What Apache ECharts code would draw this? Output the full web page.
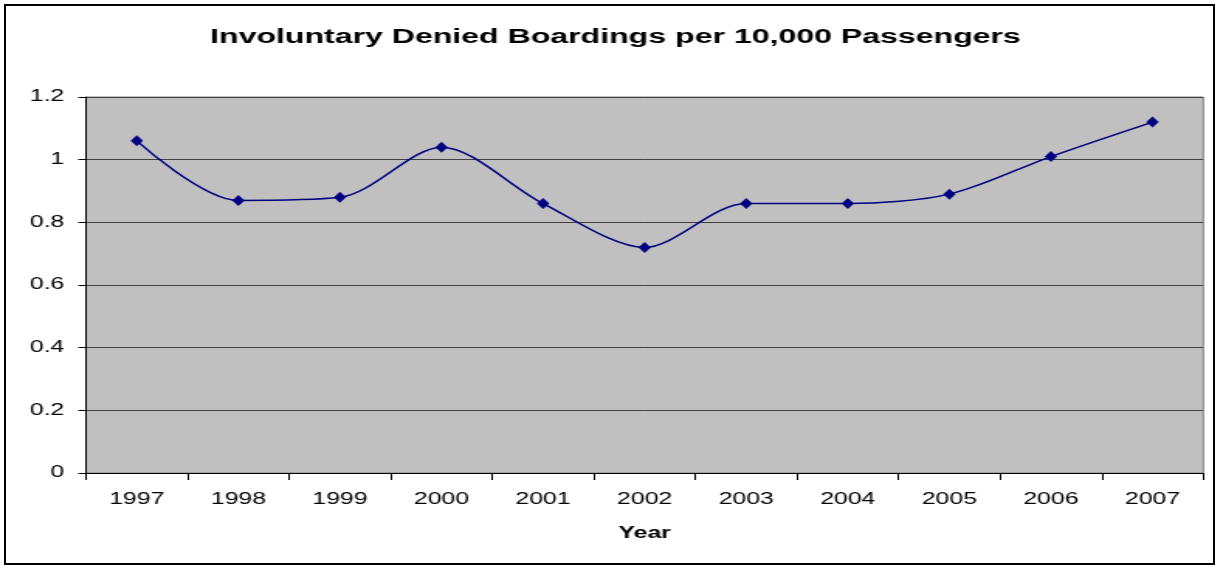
<!DOCTYPE html>
<html>
<head>
<meta charset="utf-8">
<style>
  html, body { margin: 0; padding: 0; background: #fff; overflow: hidden; }
  #wrap { position: relative; width: 1215px; height: 565px; overflow: hidden; }
  /* the chart is laid out narrow and widened horizontally, like the stretched original */
  #chart { position: absolute; left: 0; top: 0; width: 784px; height: 565px;
           transform: scaleX(1.55); transform-origin: 0 0; }
  #frame { position: absolute; left: 4px; top: 4px; width: 1207px; height: 557px;
           border: 2px solid #000; pointer-events: none; }
</style>
<script src="https://cdn.jsdelivr.net/npm/echarts@6/dist/echarts.min.js"></script>
</head>
<body>
<div id="wrap">
  <div id="chart"></div>
  <div id="frame"></div>
</div>
<script>
// Involuntary denied boardings per 10,000 passengers, by year
const years = ['1997', '1998', '1999', '2000', '2001', '2002', '2003', '2004', '2005', '2006', '2007'];
const deniedPer10k = [1.06, 0.87, 0.88, 1.04, 0.86, 0.72, 0.86, 0.86, 0.89, 1.01, 1.12];
const yTicks = { min: 0, max: 1.2, interval: 0.2 };

const chart = echarts.init(document.getElementById('chart'), null, { renderer: 'canvas' });
const font = 'Liberation Sans, Arial, sans-serif';

chart.setOption({
  backgroundColor: '#ffffff',
  animation: false,
  title: {
    text: 'Involuntary Denied Boardings per 10,000 Passengers',
    left: 135.5,
    top: 27,
    padding: 0,
    textStyle: { fontFamily: font, fontWeight: 'bold', fontSize: 20.7, color: '#000' }
  },
  grid: {
    left: 55.5, right: 7.7, top: 97, bottom: 92,
    show: true,
    backgroundColor: '#c0c0c0',
    borderColor: '#808080',
    borderWidth: 1
  },
  xAxis: {
    type: 'category',
    data: years,
    boundaryGap: true,
    name: 'Year',
    nameLocation: 'middle',
    nameGap: 53,
    nameTextStyle: { fontFamily: font, fontWeight: 'bold', fontSize: 16, color: '#000' },
    axisLine: { lineStyle: { color: '#000', width: 1 } },
    axisTick: { show: true, length: 7, lineStyle: { color: '#000' } },
    axisLabel: { margin: 19, fontFamily: font, fontSize: 16, color: '#000' },
    splitLine: { show: false }
  },
  yAxis: {
    type: 'value',
    min: yTicks.min,
    max: yTicks.max,
    interval: yTicks.interval,
    axisLine: { show: true, lineStyle: { color: '#000', width: 1 } },
    axisTick: { show: true, length: 5, lineStyle: { color: '#000' } },
    axisLabel: { margin: 14, fontFamily: font, fontSize: 16, color: '#000',
      formatter: v => String(Math.round(v * 10) / 10) },
    splitLine: { show: true, lineStyle: { color: '#404040', width: 1 } }
  },
  series: [{
    type: 'line',
    data: deniedPer10k,
    smooth: 0.3,
    symbol: 'diamond',
    symbolSize: [8, 11],
    itemStyle: { color: '#000080' },
    lineStyle: { color: '#000080', width: 1.5 }
  }]
});
</script>
</body>
</html>
